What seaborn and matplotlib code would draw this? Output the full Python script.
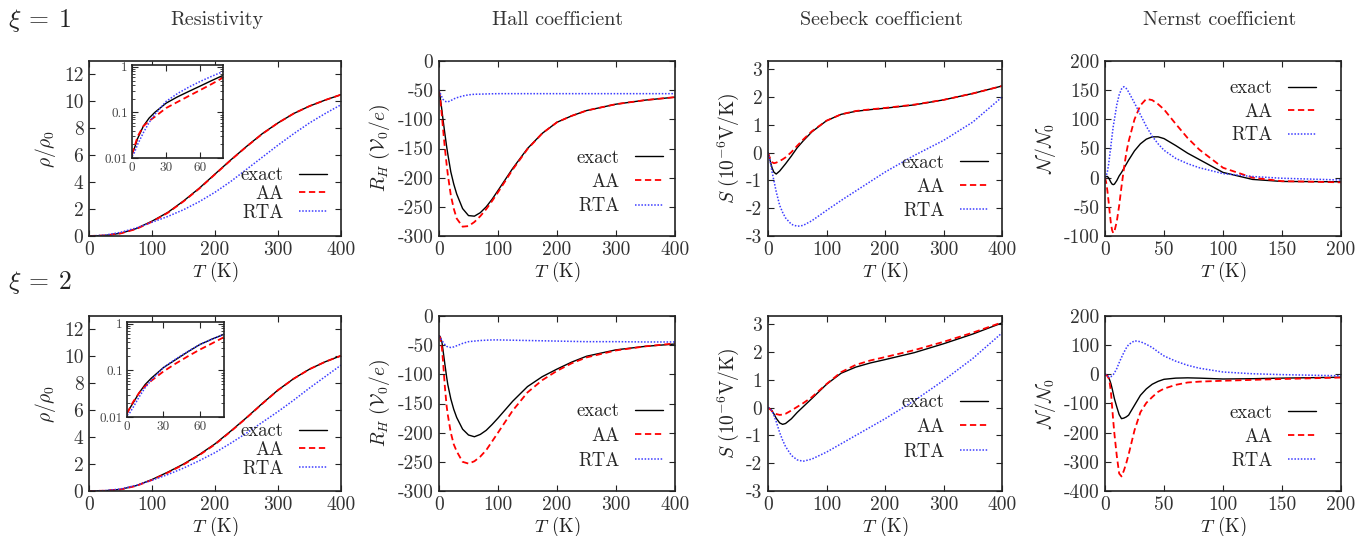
import numpy as np
import pandas as pd
import seaborn as sns
import matplotlib
matplotlib.use('Agg')
import matplotlib.pyplot as plt
from matplotlib.ticker import LogLocator, NullFormatter

# ---------------- data ----------------
# resistivity (main panels)
res_T = [0, 25, 50, 75, 100, 125, 150, 175, 200, 225, 250, 275, 300, 325, 350, 375, 400]
res1_exact = [0, 0.04, 0.2, 0.55, 1.1, 1.75, 2.6, 3.55, 4.6, 5.65, 6.65, 7.6, 8.4, 9.1, 9.65, 10.1, 10.5]
res1_aa = [0, 0.04, 0.19, 0.52, 1.06, 1.72, 2.57, 3.52, 4.58, 5.63, 6.64, 7.58, 8.4, 9.1, 9.65, 10.1, 10.5]
res1_rta = [0, 0.06, 0.27, 0.6, 1.02, 1.45, 1.95, 2.55, 3.25, 4.05, 4.95, 5.85, 6.75, 7.6, 8.4, 9.1, 9.75]
res2_exact = [0, 0.02, 0.12, 0.4, 0.85, 1.4, 2.0, 2.7, 3.5, 4.45, 5.45, 6.5, 7.5, 8.35, 9.05, 9.6, 10.05]
res2_aa = [0, 0.02, 0.11, 0.38, 0.82, 1.36, 1.96, 2.66, 3.46, 4.42, 5.43, 6.48, 7.49, 8.34, 9.05, 9.6, 10.05]
res2_rta = [0, 0.03, 0.15, 0.42, 0.8, 1.22, 1.7, 2.25, 2.85, 3.55, 4.3, 5.1, 5.9, 6.75, 7.65, 8.5, 9.35]

# resistivity insets (log scale)
ins_T = [0, 2, 5, 10, 15, 20, 30, 40, 50, 60, 70, 80]
ins1_exact = [0.012, 0.016, 0.027, 0.05, 0.075, 0.1, 0.16, 0.22, 0.29, 0.38, 0.5, 0.65]
ins1_aa = [0.012, 0.017, 0.03, 0.05, 0.065, 0.08, 0.125, 0.17, 0.23, 0.31, 0.42, 0.58]
ins1_rta = [0.011, 0.013, 0.02, 0.036, 0.06, 0.09, 0.175, 0.26, 0.36, 0.48, 0.62, 0.79]
ins2_exact = [0.012, 0.015, 0.02, 0.033, 0.05, 0.068, 0.115, 0.17, 0.25, 0.36, 0.47, 0.6]
ins2_aa = [0.012, 0.015, 0.021, 0.033, 0.046, 0.06, 0.095, 0.14, 0.2, 0.28, 0.38, 0.52]
ins2_rta = [0.011, 0.012, 0.016, 0.027, 0.043, 0.062, 0.115, 0.175, 0.255, 0.36, 0.47, 0.6]

# Hall coefficient
hall_T = [0, 2, 5, 7, 10, 13, 15, 20, 25, 30, 40, 50, 60, 70, 80, 90, 100, 125, 150, 175, 200, 225, 250,
          300, 350, 400]
hall1_exact = [-50, -62, -85, -102, -125, -147, -160, -190, -211, -228, -253, -265, -266, -260, -250, -237,
               -222, -184, -150, -124, -105, -94, -85, -74, -67, -62]
hall1_aa = [-50, -65, -95, -118, -150, -178, -195, -230, -253, -270, -284, -283, -276, -266, -254, -240,
            -225, -186, -151, -124, -105, -94, -85, -74, -67, -62]
hall1_rta = [-50, -55, -62, -66, -69, -70, -70, -68, -65, -63, -60, -58, -57, -56.8, -56.5, -56.2,
             -56, -56, -56, -56, -56, -56, -56, -56, -56, -56]
hall2_exact = [-34, -35, -45, -60, -83, -105, -118, -142, -160, -174, -194, -204, -207, -203, -196, -186,
               -175, -146, -121, -104, -91, -79, -69, -58, -52, -48]
hall2_aa = [-34, -37, -55, -80, -122, -155, -170, -200, -220, -232, -250, -253, -249, -241, -230, -215,
            -200, -162, -131, -110, -94, -81, -71, -59, -52, -47]
hall2_rta = [-34, -37, -42, -45, -49, -52, -53, -54, -53, -51, -47, -44, -43, -42, -41.5, -41,
             -41, -41.5, -42, -42.5, -43, -43.5, -44, -44, -44.5, -44.5]

# Seebeck coefficient
see_T = [0, 2, 5, 7, 10, 14, 20, 25, 30, 40, 50, 60, 75, 100, 125, 150, 175, 200, 250, 300, 350, 400]
see1_exact = [0, -0.15, -0.4, -0.55, -0.7, -0.77, -0.66, -0.53, -0.4, -0.12, 0.18, 0.42, 0.75, 1.15,
              1.38, 1.49, 1.55, 1.6, 1.72, 1.9, 2.13, 2.4]
see1_aa = [0, -0.12, -0.28, -0.34, -0.38, -0.36, -0.3, -0.24, -0.17, 0.02, 0.25, 0.47, 0.77, 1.15,
           1.38, 1.5, 1.56, 1.61, 1.73, 1.9, 2.13, 2.4]
see1_rta = [0, -0.15, -0.45, -0.7, -1.0, -1.4, -1.9, -2.15, -2.35, -2.58, -2.65, -2.62, -2.45, -2.08,
            -1.72, -1.38, -1.04, -0.7, -0.1, 0.44, 1.1, 2.0]
see2_exact = [0, -0.02, -0.06, -0.12, -0.22, -0.38, -0.55, -0.6, -0.57, -0.4, -0.17, 0.03, 0.33, 0.84,
              1.24, 1.46, 1.61, 1.73, 1.98, 2.3, 2.65, 3.05]
see2_aa = [0, -0.03, -0.08, -0.13, -0.18, -0.23, -0.26, -0.25, -0.22, -0.1, 0.03, 0.16, 0.38, 0.85,
           1.28, 1.54, 1.7, 1.82, 2.07, 2.37, 2.7, 3.07]
see2_rta = [0, -0.02, -0.07, -0.13, -0.27, -0.5, -0.9, -1.17, -1.4, -1.72, -1.88, -1.93, -1.85, -1.6,
            -1.3, -1.0, -0.7, -0.4, 0.25, 0.98, 1.77, 2.69]

# Nernst coefficient
nern_T = [0, 1, 2, 3, 4, 5, 6, 7, 8, 10, 12, 14, 16, 18, 20, 25, 30, 35, 40, 45, 50, 60, 70, 80, 100, 125, 150, 200]
nern1_exact = [0, 2, 2, 0, -4, -8, -11, -12, -11, -5, 3, 9, 16, 23, 30, 46, 58, 66, 70, 70, 67, 55, 42, 31,
               9, -3, -6.5, -7]
nern1_aa = [0, -8, -22, -40, -60, -78, -90, -95, -92, -75, -48, -15, 15, 42, 62, 100, 124, 135, 133, 126, 117,
            92, 68, 48, 17, 0, -6, -8]
nern1_rta = [0, 3, 10, 22, 38, 55, 72, 88, 100, 125, 142, 152, 156, 153, 147, 128, 108, 88, 71, 58, 47, 33,
             24, 17, 7, 2, -1, -4]
nern2_exact = [0, -1, -4, -10, -20, -32, -48, -66, -84, -112, -138, -152, -150, -146, -140, -106, -72, -50,
               -34, -24, -17, -13, -12, -13, -16, -15, -13, -10]
nern2_aa = [0, -2, -6, -12, -30, -60, -110, -160, -205, -280, -340, -350, -330, -305, -275, -192, -130, -98,
            -78, -60, -49, -36, -28, -25, -22, -19, -16, -11]
nern2_rta = [0, -2, -5, -8, -9, -8, -5, -1, 5, 20, 40, 58, 75, 90, 102, 115, 112, 103, 92, 77, 63, 45, 31, 21,
             8, 2, -1, -5]

# ticks / labels
t400_ticks = [0, 100, 200, 300, 400]
t200_ticks = [0, 50, 100, 150, 200]
res_yticks = [0, 2, 4, 6, 8, 10, 12]
hall_yticks = [-300, -250, -200, -150, -100, -50, 0]
see_yticks = [-3, -2, -1, 0, 1, 2, 3]
nern1_yticks = [-100, -50, 0, 50, 100, 150, 200]
nern2_yticks = [-400, -300, -200, -100, 0, 100, 200]
titles = ['Resistivity', 'Hall coefficient', 'Seebeck coefficient', 'Nernst coefficient']
row_labels = [r'$\xi\:=\:1$', r'$\xi\:=\:2$']
series_names = ['exact', 'AA', 'RTA']

# ---------------- style ----------------
sns.set_style('ticks')
plt.rcParams['font.family'] = ['cmr10', 'DejaVu Serif']
plt.rcParams['mathtext.fontset'] = 'cm'
plt.rcParams['axes.unicode_minus'] = False

W, H = 1360, 536
fig = plt.figure(figsize=(W / 100, H / 100), dpi=100)


def box(l, t, w, h):
    return [l / W, 1 - (t + h) / H, w / W, h / H]


cols = [(89, 252), (439, 236), (768, 234), (1105, 236)]
rows = [61, 316]
AX_H = 175

line_styles = [dict(color='black', linewidth=1.0, linestyle='-'),
               dict(color='#ff0000', linewidth=1.3, linestyle=(0, (3.5, 2))),
               dict(color='#3c3cff', linewidth=1.1, linestyle=(0, (1, 1.1)))]


def tick_fmt(v):
    return '%g' % v


def draw(ax, T, curves):
    for name, y, st in zip(series_names, curves, line_styles):
        sns.lineplot(x=T, y=y, ax=ax, label=name, **st)


def style_axes(ax, xticks, yticks, xlim, ylim, ylabel, size=14):
    ax.set_xlim(*xlim)
    ax.set_ylim(*ylim)
    ax.set_xticks(xticks, [tick_fmt(v) for v in xticks])
    ax.set_yticks(yticks, [tick_fmt(v) for v in yticks])
    ax.tick_params(direction='in', top=True, right=True, length=4, width=0.8,
                   labelsize=size, pad=4, colors='#222222', labelcolor='#333333')
    for s in ax.spines.values():
        s.set_linewidth(1.2)
        s.set_color('#222222')
    ax.set_xlabel(r'$T$ (K)', fontsize=13.5, labelpad=0, color='#222222')
    ax.set_ylabel(ylabel, fontsize=14, labelpad=4, color='#222222')


def legend(ax, x, y, spacing, loc='center right'):
    ax.legend(loc=loc, bbox_to_anchor=(x, y), frameon=False, markerfirst=False,
              borderpad=0, borderaxespad=0, handlelength=1.5, handletextpad=0.8,
              labelspacing=spacing, fontsize=13.5)


panels = [
    # row, col, T, curves, xticks, yticks, xlim, ylim, ylabel, legend (x, y, spacing)
    (0, 0, res_T, (res1_exact, res1_aa, res1_rta), t400_ticks, res_yticks, (0, 400), (0, 13),
     r'$\rho/\rho_0$', (0.944, 0.24, 0.05)),
    (0, 1, hall_T, (hall1_exact, hall1_aa, hall1_rta), t400_ticks, hall_yticks, (0, 400), (-300, 0),
     r'$R_H\ (\mathcal{V}_0/e)$', (0.949, 0.309, 0.34)),
    (0, 2, see_T, (see1_exact, see1_aa, see1_rta), t400_ticks, see_yticks, (0, 400), (-3, 3.3),
     r'$S\ (10^{-6}\mathrm{V/K})$', (0.94, 0.28, 0.32)),
    (0, 3, nern_T, (nern1_exact, nern1_aa, nern1_rta), t200_ticks, nern1_yticks, (0, 200), (-100, 200),
     r'$\mathcal{N}/\mathcal{N}_0$', (0.894, 0.709, 0.3)),
    (1, 0, res_T, (res2_exact, res2_aa, res2_rta), t400_ticks, res_yticks, (0, 400), (0, 13),
     r'$\rho/\rho_0$', (0.944, 0.234, 0.05)),
    (1, 1, hall_T, (hall2_exact, hall2_aa, hall2_rta), t400_ticks, hall_yticks, (0, 400), (-300, 0),
     r'$R_H\ (\mathcal{V}_0/e)$', (0.949, 0.314, 0.36)),
    (1, 2, see_T, (see2_exact, see2_aa, see2_rta), t400_ticks, see_yticks, (0, 400), (-3, 3.3),
     r'$S\ (10^{-6}\mathrm{V/K})$', (0.94, 0.366, 0.36)),
    (1, 3, nern_T, (nern2_exact, nern2_aa, nern2_rta), t200_ticks, nern2_yticks, (0, 200), (-400, 200),
     r'$\mathcal{N}/\mathcal{N}_0$', (0.894, 0.309, 0.33)),
]

for r, c, T, curves, xt, yt, xl, yl, ylab, leg in panels:
    ax = fig.add_axes(box(cols[c][0], rows[r], cols[c][1], AX_H))
    draw(ax, T, curves)
    style_axes(ax, xt, yt, xl, yl, ylab)
    legend(ax, *leg)

# insets for the resistivity panels
inset_boxes = [(132, 65, 91, 93), (127, 322, 97, 95)]
inset_data = [(ins1_exact, ins1_aa, ins1_rta), (ins2_exact, ins2_aa, ins2_rta)]
for bx, curves in zip(inset_boxes, inset_data):
    ai = fig.add_axes(box(*bx))
    draw(ai, ins_T, curves)
    ai.get_legend().remove()
    ai.set_yscale('log')
    ai.set_xlim(0, 80)
    ai.set_ylim(0.01, 1.1)
    ai.set_xticks([0, 30, 60], ['0', '30', '60'])
    ai.set_yticks([0.01, 0.1, 1], ['0.01', '0.1', '1'])
    ai.yaxis.set_minor_locator(LogLocator(base=10, subs=np.arange(2, 10)))
    ai.yaxis.set_minor_formatter(NullFormatter())
    ai.tick_params(which='major', direction='in', top=True, right=True, length=4, width=0.8,
                   labelsize=9.5, pad=3, labelcolor='#444444')
    ai.tick_params(which='minor', direction='in', left=True, right=True, length=2, width=0.6)
    for s in ai.spines.values():
        s.set_linewidth(1.2)
        s.set_color('#222222')
    ai.set_xlabel('')
    ai.set_ylabel('')
    ai.set_facecolor('white')

# column titles and row labels
title_x = [217, 558, 882, 1220]
for x, t in zip(title_x, titles):
    fig.text(x / W, 1 - 20 / H, t, ha='center', va='center', fontsize=14.5, color='#333333')
for y, t in zip([20, 283], row_labels):
    fig.text(40 / W, 1 - y / H, t, ha='center', va='center', fontsize=18.5, color='#222222')

fig.savefig('out.png', dpi=100)
